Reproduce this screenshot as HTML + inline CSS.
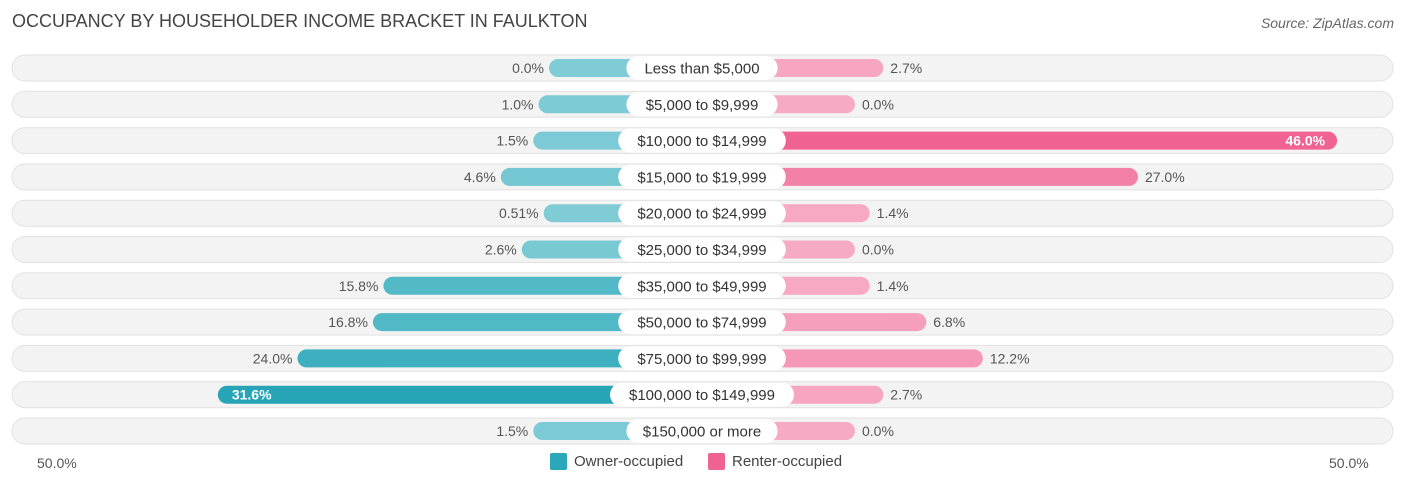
<!DOCTYPE html>
<html><head><meta charset="utf-8">
<style>
body{margin:0;width:1406px;height:486px;background:#fff;font-family:"Liberation Sans",sans-serif;position:relative;overflow:hidden}
.t{position:absolute;left:12px;top:11px;font-size:18px;color:#444}
.src{position:absolute;right:12px;top:15px;font-size:14px;color:#666;font-style:italic}
.ax{position:absolute;top:455px;font-size:14px;color:#555}
.lg{position:absolute;top:453px;font-size:15px;color:#444;display:flex;align-items:center}
.sw{width:17px;height:17px;border-radius:2px;margin-right:7px}
</style></head><body>
<div class="t">OCCUPANCY BY HOUSEHOLDER INCOME BRACKET IN FAULKTON</div>
<div class="src">Source: ZipAtlas.com</div>
<svg id="c" width="1406" height="486" style="position:absolute;left:0;top:0"></svg>
<div class="ax" style="left:37px">50.0%</div>
<div class="ax" style="left:1329px">50.0%</div>
<div class="lg" style="left:550px"><div class="sw" style="background:#2aa7b8"></div>Owner-occupied</div>
<div class="lg" style="left:708px"><div class="sw" style="background:#f06292"></div>Renter-occupied</div>
<script>
const categories=["Less than $5,000","$5,000 to $9,999","$10,000 to $14,999","$15,000 to $19,999","$20,000 to $24,999","$25,000 to $34,999","$35,000 to $49,999","$50,000 to $74,999","$75,000 to $99,999","$100,000 to $149,999","$150,000 or more"];
const ownerValues=[0.0,1.0,1.5,4.6,0.51,2.6,15.8,16.8,24.0,31.6,1.5];
const renterValues=[2.7,0.0,46.0,27.0,1.4,0.0,1.4,6.8,12.2,2.7,0.0];
const ownerLabels=["0.0%","1.0%","1.5%","4.6%","0.51%","2.6%","15.8%","16.8%","24.0%","31.6%","1.5%"];
const renterLabels=["2.7%","0.0%","46.0%","27.0%","1.4%","0.0%","1.4%","6.8%","12.2%","2.7%","0.0%"];
const svg=document.getElementById('c');const NS="http://www.w3.org/2000/svg";
const CX=702,OFF=153,K=10.48,Y0=68,DY=36.3;
const xL=v=>CX-OFF-v*K, xR=v=>CX+OFF+v*K, yRow=i=>Y0+i*DY;
function mix(a,b,t){return 'rgb('+a.map((x,i)=>Math.round(x+(b[i]-x)*t)).join(',')+')';}
function mk(tag,at){const e=document.createElementNS(NS,tag);for(const k in at)e.setAttribute(k,at[k]);svg.appendChild(e);return e;}
categories.forEach((c,i)=>{
 const y=yRow(i);
 const bg=mk('rect',{x:12,y:y-13,width:1381,height:26,rx:13,fill:'#f3f3f3',stroke:'#e2e2e2'});
 
 const ov=ownerValues[i],rv=renterValues[i];
 const ob=mk('rect',{x:xL(ov),y:y-9,width:CX-xL(ov),height:18,rx:9,fill:mix([128,204,214],[38,165,183],Math.min(ov/32,1))});
 
 const rb=mk('rect',{x:CX,y:y-9,width:xR(rv)-CX,height:18,rx:9,fill:mix([247,170,196],[240,98,146],Math.min(rv/46,1))});
 
 const lw=c.length*8.2+20;
 const lp=mk('rect',{x:CX-lw/2,y:y-12,width:lw,height:24,rx:12,fill:'#fff'});
 
 const lt=mk('text',{x:CX,y:y+5.5,'text-anchor':'middle','font-size':15,fill:'#333'});lt.textContent=c;
 
 const oin=ov>28;
 const ot=mk('text',{x:oin?xL(ov)+14:xL(ov)-5,y:y+5,'text-anchor':oin?'start':'end','font-size':14,fill:oin?'#fff':'#555','font-weight':oin?'bold':'normal'});ot.textContent=ownerLabels[i];
 
 const rin=rv>40;
 const rt=mk('text',{x:rin?xR(rv)-12:xR(rv)+7,y:y+5,'text-anchor':rin?'end':'start','font-size':14,fill:rin?'#fff':'#555','font-weight':rin?'bold':'normal'});rt.textContent=renterLabels[i];
 
});
</script>
</body></html>
